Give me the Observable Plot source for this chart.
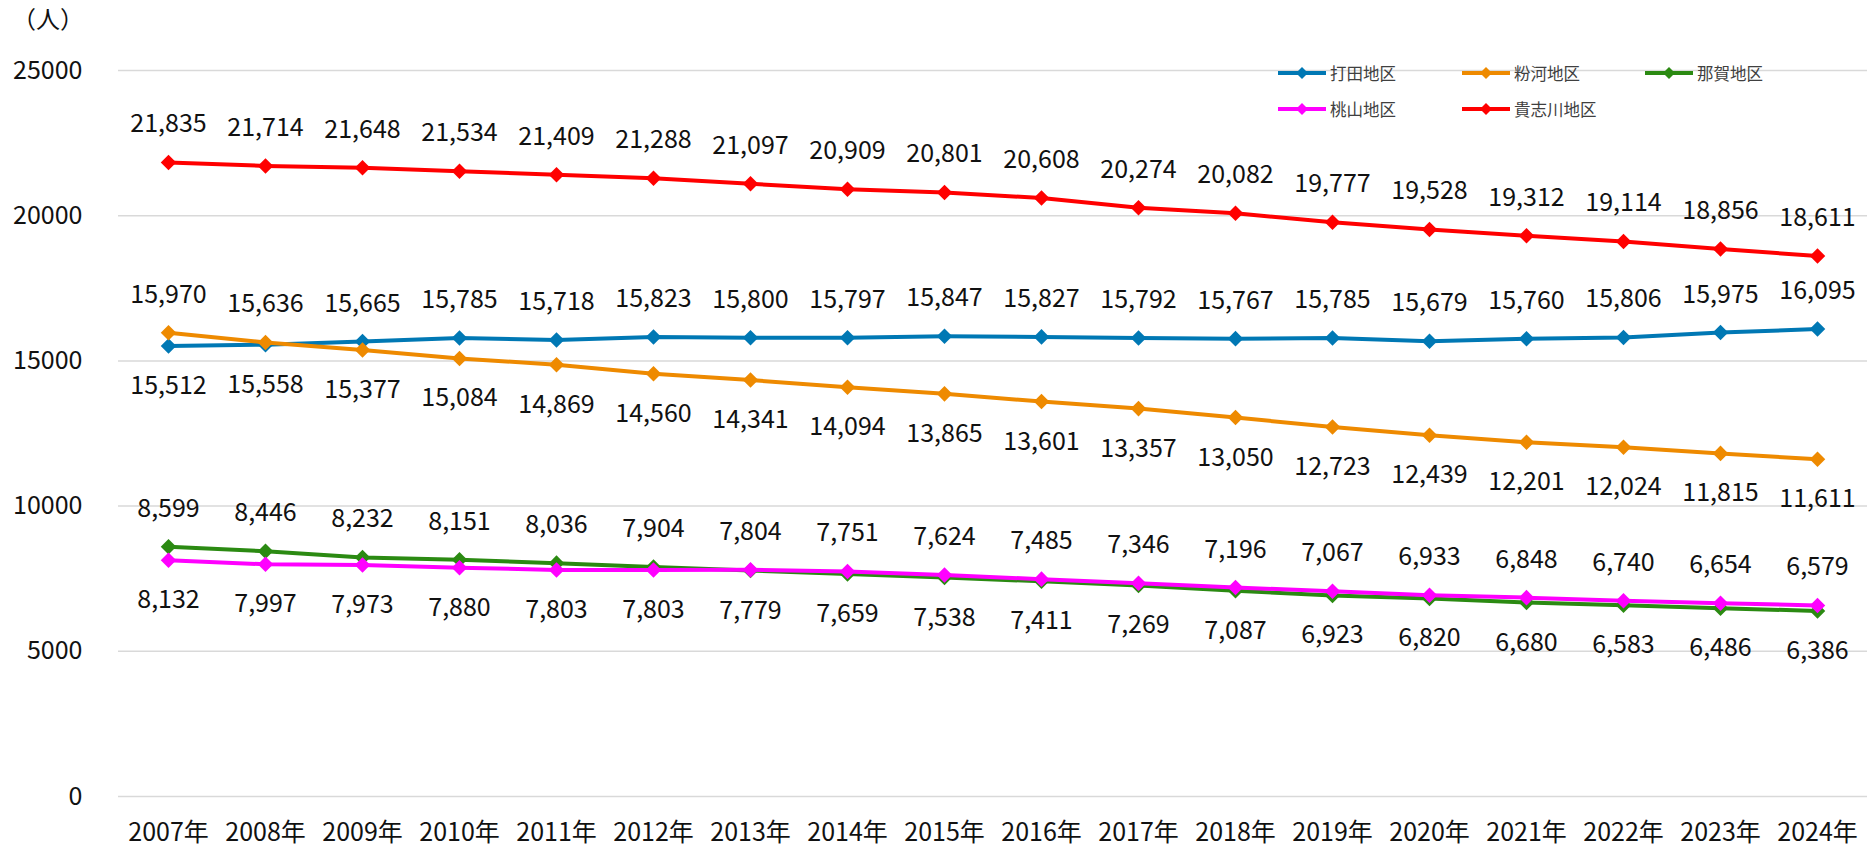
<!DOCTYPE html>
<html><head><meta charset="utf-8">
<script src="https://cdn.jsdelivr.net/npm/d3@7"></script>
<script src="https://cdn.jsdelivr.net/npm/@observablehq/plot@0.6"></script>
<style>
body{margin:0;background:#fff;}
#wrap{position:relative;width:1868px;height:852px;font-family:"Noto Sans CJK JP","Noto Sans",sans-serif;}
#unit{position:absolute;left:12px;top:6px;font-size:24px;color:#111;line-height:1;}
.leg{position:absolute;display:flex;align-items:center;font-size:16.5px;color:#404040;line-height:1;}
.leg svg{margin-right:4px;}
</style></head><body>
<div id="wrap"><div id="chart"></div><div id="unit">（人）</div></div>
<script>
const years = ["2007年","2008年","2009年","2010年","2011年","2012年","2013年","2014年","2015年","2016年","2017年","2018年","2019年","2020年","2021年","2022年","2023年","2024年"];
const seriesNames = ["打田地区","粉河地区","那賀地区","桃山地区","貴志川地区"];
const seriesColors = ["#0078B4","#EE8A00","#2B8A12","#FF00FF","#FF0000"];
const uchita    = [15512,15558,15665,15785,15718,15823,15800,15797,15847,15827,15792,15767,15785,15679,15760,15806,15975,16095];
const kokawa    = [15970,15636,15377,15084,14869,14560,14341,14094,13865,13601,13357,13050,12723,12439,12201,12024,11815,11611];
const naga      = [8599,8446,8232,8151,8036,7904,7779,7659,7538,7411,7269,7087,6923,6820,6680,6583,6486,6386];
const momoyama  = [8132,7997,7973,7880,7803,7803,7804,7751,7624,7485,7346,7196,7067,6933,6848,6740,6654,6579];
const kishigawa = [21835,21714,21648,21534,21409,21288,21097,20909,20801,20608,20274,20082,19777,19528,19312,19114,18856,18611];
const yTicks = [0,5000,10000,15000,20000,25000];

const seriesValues = [uchita, kokawa, naga, momoyama, kishigawa];
// label placement: the higher of each overlapping pair labelled above, the lower below
const partner = [kokawa, uchita, momoyama, naga, null];
const rows = [];
seriesNames.forEach((name, si) => {
  seriesValues[si].forEach((v, i) => {
    const p = partner[si];
    const above = p ? (v > p[i] || (v === p[i] && si % 2 === 0)) : true;
    rows.push({series: name, year: years[i], value: v, above});
  });
});

const fmt = d3.format(",");
const marks = [Plot.gridY(yTicks, {stroke: "#d9d9d9", strokeWidth: 1.5, strokeOpacity: 1})];
seriesNames.forEach(name => {
  const data = rows.filter(d => d.series === name);
  marks.push(Plot.line(data, {x: "year", y: "value", stroke: "series", strokeWidth: 4}));
  marks.push(Plot.dot(data, {x: "year", y: "value", fill: "series", symbol: "diamond2", r: 7, stroke: null}));
});
marks.push(Plot.text(rows.filter(d => d.above), {x: "year", y: "value", text: d => fmt(d.value), dy: -38, fontSize: 25, fill: "#111", lineAnchor: "middle"}));
marks.push(Plot.text(rows.filter(d => !d.above), {x: "year", y: "value", text: d => fmt(d.value), dy: 40, fontSize: 25, fill: "#111", lineAnchor: "middle"}));
marks.push(Plot.axisX({tickSize: 0, tickPadding: 27, fontSize: 25, fill: "#111", label: null}));
marks.push(Plot.axisY({ticks: yTicks, tickSize: 0, tickPadding: 36, fontSize: 25, fill: "#111", tickFormat: d3.format("d"), label: null}));

const chart = Plot.plot({
  width: 1868, height: 852,
  marginTop: 70, marginBottom: 56, marginLeft: 118, marginRight: 1,
  style: {fontFamily: '"Noto Sans CJK JP","Noto Sans",sans-serif', background: "#fff"},
  x: {type: "point", domain: years, padding: 0.5, axis: null},
  y: {domain: [0, 25000], axis: null},
  color: {domain: seriesNames, range: seriesColors},
  marks
});
document.getElementById("chart").appendChild(chart);

// legend
const legPos = [[1278,73],[1462,73],[1645,73],[1278,109],[1462,109]];
const wrap = document.getElementById("wrap");
seriesNames.forEach((name, i) => {
  const div = document.createElement("div");
  div.className = "leg";
  div.style.left = legPos[i][0] + "px";
  div.style.top = (legPos[i][1] - 9) + "px";
  const c = seriesColors[i];
  div.innerHTML = `<svg width="48" height="18"><line x1="0" y1="9" x2="48" y2="9" stroke="${c}" stroke-width="4"/><polygon points="24,3 30,9 24,15 18,9" fill="${c}"/></svg><span>${name}</span>`;
  wrap.appendChild(div);
});
</script>
</body></html>
